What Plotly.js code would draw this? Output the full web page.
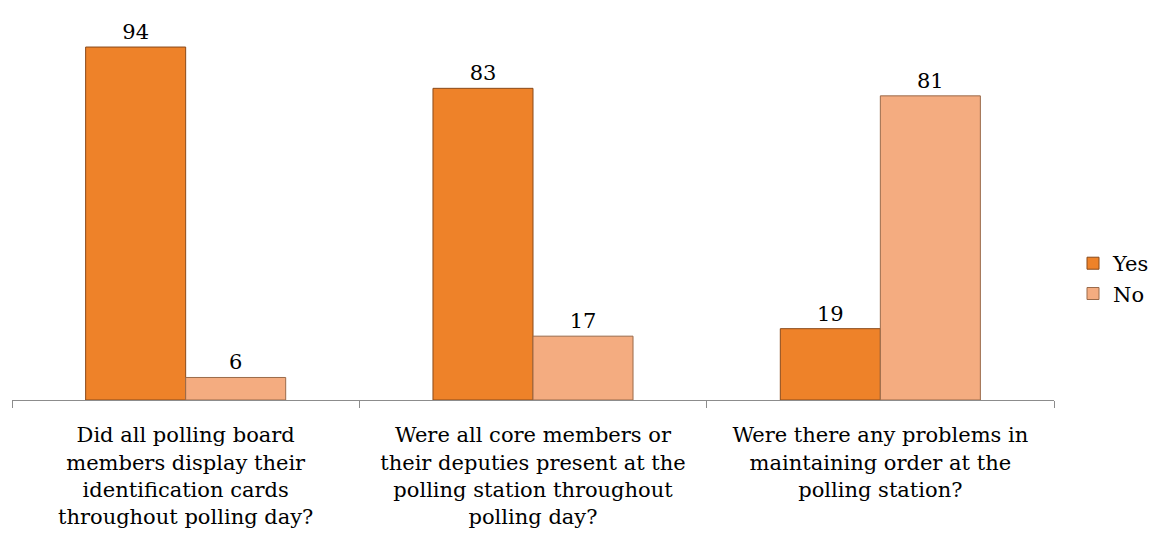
<!DOCTYPE html>
<html>
<head>
<meta charset="utf-8">
<script src="https://cdn.plot.ly/plotly-3.0.1.min.js"></script>
<style>html,body{margin:0;padding:0;background:#fff}#chart{width:1160px;height:543px}</style>
</head>
<body>
<div id="chart"></div>
<script>
var categories = [
  "Did all polling board<br>members display their<br>identification cards<br>throughout polling day?",
  "Were all core members or<br>their deputies present at the<br>polling station throughout<br>polling day?",
  "Were there any problems in<br>maintaining order at the<br>polling station?"
];
var yesValues = [94, 83, 19];
var noValues = [6, 17, 81];
var seriesNames = ["Yes", "No"];

var font = "DejaVu Serif, Georgia, serif";
var traces = [
  {type: "bar", name: seriesNames[0], x: categories, y: yesValues,
   text: yesValues.map(String), textposition: "outside", cliponaxis: false,
   textfont: {family: font, size: 21, color: "#000"},
   marker: {color: "#EE8229", line: {color: "#8a4a1a", width: 1}}},
  {type: "bar", name: seriesNames[1], x: categories, y: noValues,
   text: noValues.map(String), textposition: "outside", cliponaxis: false,
   textfont: {family: font, size: 21, color: "#000"},
   marker: {color: "#F4AC80", line: {color: "#9a6a4a", width: 1}}}
];
var layout = {
  width: 1160, height: 543,
  margin: {l: 12, r: 106, t: 20, b: 143},
  paper_bgcolor: "#fff", plot_bgcolor: "#fff",
  barmode: "group", bargap: 0.424, bargroupgap: 0,
  font: {family: font, size: 21, color: "#000"},
  showlegend: true,
  legend: {xref: "container", yref: "container", x: 0.925, xanchor: "left", y: 0.487, yanchor: "middle",
           font: {family: font, size: 21, color: "#000"}, itemwidth: 30},
  xaxis: {type: "category", showline: true, linecolor: "#8c8c8c", linewidth: 1,
          ticks: "outside", tickson: "boundaries", ticklen: 7, tickcolor: "#8c8c8c",
          ticklabelstandoff: 16,
          showgrid: false, tickfont: {family: font, size: 21, color: "#000"}, automargin: false},
  yaxis: {range: [0, 101.2], visible: false, showgrid: false, zeroline: false}
};
Plotly.newPlot("chart", traces, layout, {displayModeBar: false, staticPlot: true});
</script>
</body>
</html>
